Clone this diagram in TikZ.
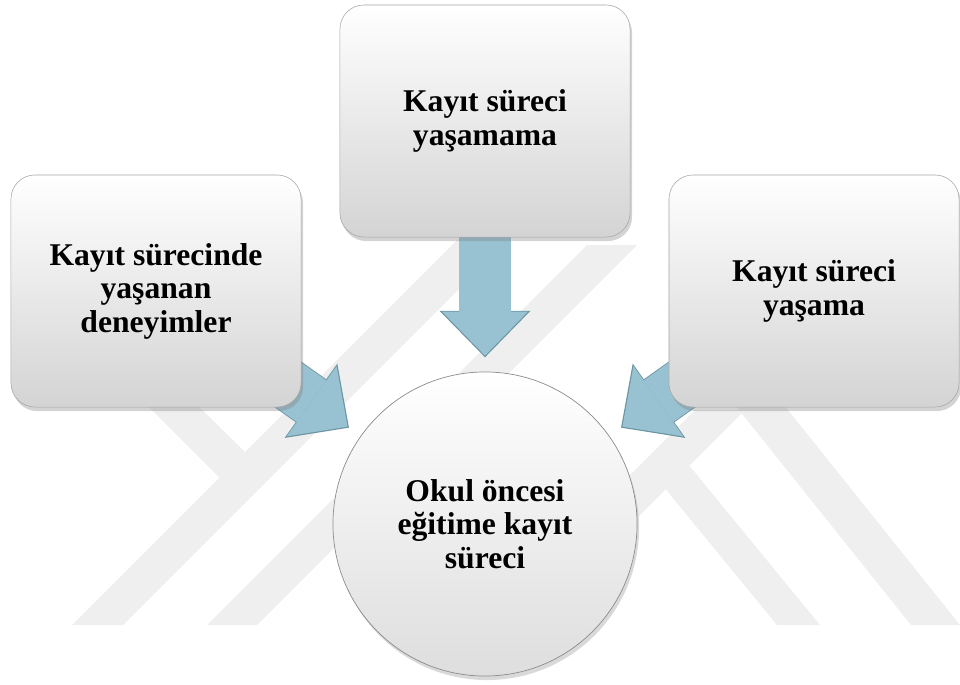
\documentclass[tikz,border=0pt]{standalone}
\usepackage{fontspec}
\setmainfont{Liberation Serif}
\usetikzlibrary{arrows.meta,shadows,backgrounds}

\definecolor{akismavi}{RGB}{152,194,209}
\definecolor{akiskoyu}{RGB}{108,148,163}
\definecolor{izgri}{RGB}{239,239,239}

\tikzset{
  yazi/.style={font=\fontsize{22.5}{23.8}\selectfont\bfseries, align=center},
  kutu/.style={yazi, rectangle, rounded corners=0.6cm, minimum width=7.25cm, minimum height=5.8cm,
    draw=black!35, line width=0.4pt, top color=white, bottom color=black!17,
    drop shadow={opacity=0.35, shadow xshift=0.5mm, shadow yshift=-1mm}},
  daire/.style={yazi, circle, minimum size=7.6cm, inner sep=0pt,
    draw=black!45, line width=0.5pt, top color=white, bottom color=black!13,
    drop shadow={opacity=0.3, shadow xshift=0.5mm, shadow yshift=-1mm}},
  akis/.style={line width=1.275cm, draw=akismavi,
    -{Triangle[length=1.1cm, width=2.15cm, line width=0pt]}, shorten >=0.4cm,
    preaction={draw=akiskoyu, line width=1.275cm+1.2pt,
      -{Triangle[length=1.1cm+1.8pt, width=2.15cm+3.6pt, line width=0pt]}, shorten >=0.4cm-1.2pt}}
}

\begin{document}
\begin{tikzpicture}[x=0.025cm, y=-0.025cm]
            \useasboundingbox (0,0) rectangle (960,684);
            % kutular ve merkez
            \node[kutu] (yasamama) at (485,121) {Kayıt süreci\\yaşamama};
            \node[kutu] (deneyim) at (156,291) {Kayıt sürecinde\\yaşanan\\deneyimler};
            \node[kutu] (yasama) at (814,291) {Kayıt süreci\\yaşama};
            \node[daire] (surec) at (485,524) {Okul öncesi\\eğitime kayıt\\süreci};
            \begin{scope}[on background layer]
            % soluk zemin deseni
            \fill[izgri] (72,625) -- (123,625) -- (508,240) -- (457,240) -- cycle;
            \fill[izgri] (122,380) -- (172,380) -- (245,452) -- (219.5,477.5) -- cycle;
            \fill[izgri] (207,625) -- (257,625) -- (637,245) -- (587,245) -- cycle;
            \fill[izgri] (777,625) -- (820,625) -- (689.4,465.7) -- (665.7,489.3) -- cycle;
            \fill[izgri] (545,560) -- (595,560) -- (745,410) -- (695,410) -- cycle;
            \fill[izgri] (911,625) -- (960,625) -- (780,400) -- (731,400) -- cycle;
            % oklar
            \draw[akis] (yasamama.center) -- (surec);
            \draw[akis] (deneyim.center) -- (surec);
            \draw[akis] (yasama.center) -- (surec);
            \end{scope}
\end{tikzpicture}
\end{document}
